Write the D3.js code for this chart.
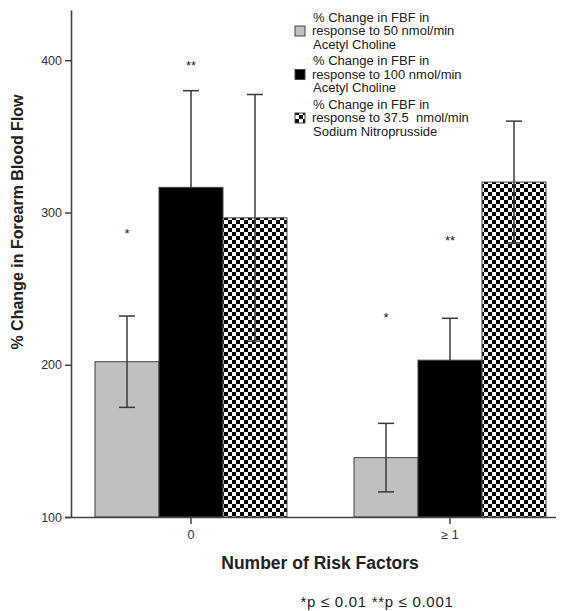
<!DOCTYPE html>
<html>
<head>
<meta charset="utf-8">
<script src="https://cdn.jsdelivr.net/npm/d3@7"></script>
<style>
  body { margin: 0; background: #fff; }
  svg { display: block; }
  text { font-family: Arial, "Liberation Sans", sans-serif; white-space: pre; }
</style>
</head>
<body>
<div id="chart"></div>
<script>
// categories on x
var categories = ['0', '\u2265 1'];
// mean % change per series, one value per category
var achLow = [202, 139];
var achHigh = [316.5, 203];
var snp = [296.5, 320];
// error bar half widths
var achLowErr = [30, 22.5];
var achHighErr = [63.5, 27.5];
var snpErr = [81, 40];
// significance stars + the level they sit at
var achLowStars = ['*', '*'];
var achLowStarAt = [288, 233];
var achHighStars = ['**', '**'];
var achHighStarAt = [398, 283];
var yTicks = [100, 200, 300, 400];
var legendLines = [
  ['% Change in FBF in', 'response to 50 nmol/min', 'Acetyl Choline'],
  ['% Change in FBF in', 'response to 100 nmol/min', 'Acetyl Choline'],
  ['% Change in FBF in', 'response to 37.5  nmol/min', 'Sodium Nitroprusside']
];

var W = 563, H = 611;
var svg = d3.select('#chart').append('svg')
    .attr('width', W)
    .attr('height', H);

// checker pattern for SNP bars
var defs = svg.append('defs');
var pat = defs.append('pattern')
    .attr('id', 'checker')
    .attr('patternUnits', 'userSpaceOnUse')
    .attr('width', 8).attr('height', 8);
pat.append('rect').attr('width', 8).attr('height', 8).attr('fill', '#fff');
pat.append('rect').attr('width', 4).attr('height', 4).attr('fill', '#000');
pat.append('rect').attr('x', 4).attr('y', 4).attr('width', 4).attr('height', 4).attr('fill', '#000');

var series = [
  {vals: achLow, err: achLowErr, fill: '#c0c0c0'},
  {vals: achHigh, err: achHighErr, fill: '#000'},
  {vals: snp, err: snpErr, fill: 'url(#checker)'}
];

var x = d3.scaleBand()
    .domain(categories)
    .range([71, 570])
    .paddingInner(0.2587)
    .paddingOuter(0.0927);
var xs = d3.scaleBand()
    .domain([0, 1, 2])
    .range([0, x.bandwidth()]);
var y = d3.scaleLinear()
    .domain([100, 433])
    .range([517, 10]);

var rows = [];
series.forEach(function(s, si){
  categories.forEach(function(c, ci){
    rows.push({cat: c, si: si, v: s.vals[ci], e: s.err[ci], fill: s.fill});
  });
});

var ebBack = svg.append('g').attr('stroke', '#3a3a3a').attr('stroke-width', 1.5);
var barG = svg.append('g');
var ebFront = svg.append('g').attr('stroke', '#3a3a3a').attr('stroke-width', 1.5);

// bars
barG.selectAll('rect')
    .data(rows)
  .enter().append('rect')
    .attr('x', function(d){ return x(d.cat) + xs(d.si); })
    .attr('y', function(d){ return y(d.v); })
    .attr('width', xs.bandwidth())
    .attr('height', function(d){ return y(100) - y(d.v); })
    .attr('fill', function(d){ return d.fill; })
    .attr('stroke', '#444')
    .attr('stroke-width', 1);

// error bars (the black series sits behind its bar, like the original)
rows.forEach(function(d){
  var eb = d.si == 1 ? ebBack : ebFront;
  var cx = x(d.cat) + xs(d.si) + xs.bandwidth() / 2;
  eb.append('line')
    .attr('x1', cx).attr('x2', cx)
    .attr('y1', y(d.v + d.e)).attr('y2', y(d.v - d.e));
  [d.v + d.e, d.v - d.e].forEach(function(v){
    eb.append('line')
      .attr('x1', cx - 8).attr('x2', cx + 8)
      .attr('y1', y(v)).attr('y2', y(v));
  });
});

// stars
function addStars(labels, levels, si){
  categories.forEach(function(c, ci){
    svg.append('text')
      .attr('x', x(c) + xs(si) + xs.bandwidth() / 2)
      .attr('y', y(levels[ci]) + 7)
      .attr('text-anchor', 'middle')
      .attr('font-size', 13)
      .attr('fill', '#222')
      .text(labels[ci]);
  });
}
addStars(achLowStars, achLowStarAt, 0);
addStars(achHighStars, achHighStarAt, 1);

// y axis
var yAxis = svg.append('g')
    .attr('transform', 'translate(71,0)')
    .call(d3.axisLeft(y).tickValues(yTicks).tickSize(6).tickPadding(3).tickSizeOuter(0));
yAxis.select('.domain').attr('stroke', '#444').attr('stroke-width', 1.6);
yAxis.selectAll('.tick line').attr('stroke', '#444').attr('stroke-width', 1.5);
yAxis.selectAll('.tick text').attr('font-size', 12.5).attr('fill', '#333')
    .style('font-family', 'Arial, "Liberation Sans", sans-serif');

// x axis
var xAxis = svg.append('g')
    .attr('transform', 'translate(0,517)')
    .call(d3.axisBottom(x).tickSize(7).tickPadding(6).tickSizeOuter(0));
xAxis.select('.domain').remove();
xAxis.selectAll('.tick line').attr('stroke', '#444').attr('stroke-width', 1.5);
xAxis.selectAll('.tick text').attr('font-size', 12.5).attr('fill', '#333')
    .style('font-family', 'Arial, "Liberation Sans", sans-serif');
svg.append('line')
    .attr('x1', 65).attr('x2', 556)
    .attr('y1', 517.5).attr('y2', 517.5)
    .attr('stroke', '#444').attr('stroke-width', 1.6);

// axis titles
svg.append('text')
    .attr('transform', 'translate(23,222) rotate(-90)')
    .attr('text-anchor', 'middle')
    .attr('font-size', 16)
    .attr('font-weight', 'bold')
    .attr('fill', '#222')
    .text('% Change in Forearm Blood Flow');

svg.append('text')
    .attr('x', 320).attr('y', 569)
    .attr('text-anchor', 'middle')
    .attr('font-size', 17.5)
    .attr('font-weight', 'bold')
    .attr('fill', '#222')
    .text('Number of Risk Factors');

svg.append('text')
    .attr('x', 377).attr('y', 607)
    .attr('text-anchor', 'middle')
    .attr('font-size', 15)
    .attr('letter-spacing', 0.7)
    .attr('fill', '#222')
    .text('*p \u2264 0.01 **p \u2264 0.001');

// legend
var leg = svg.append('g').attr('transform', 'translate(295,0)');
legendLines.forEach(function(lines, i){
  var g = leg.append('g').attr('transform', 'translate(0,' + (i * 43.5) + ')');
  g.append('rect')
    .attr('x', 0).attr('y', 26)
    .attr('width', 10).attr('height', 10)
    .attr('fill', series[i].fill)
    .attr('stroke', '#444');
  lines.forEach(function(t, j){
    g.append('text')
      .attr('x', j == 1 ? 17 : 18)
      .attr('y', 21.5 + j * 13.5)
      .attr('font-size', 13)
      .attr('fill', '#222')
      .text(t);
  });
});
</script>
</body>
</html>
